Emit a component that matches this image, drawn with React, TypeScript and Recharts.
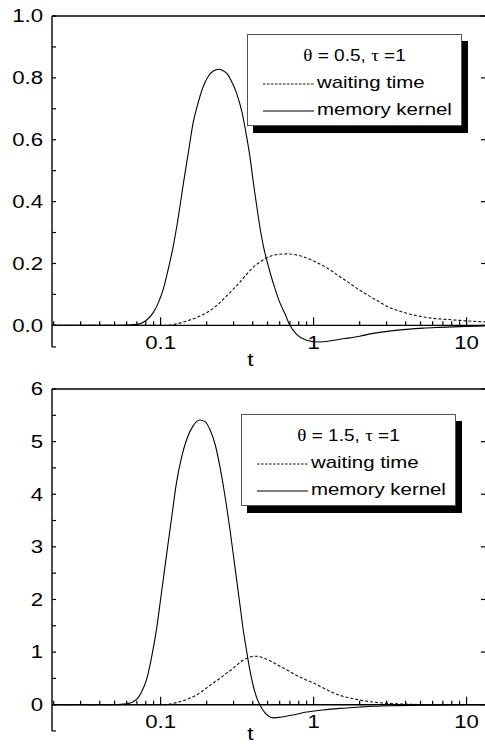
import React from "react";
import { Label, Legend, Line, LineChart, ReferenceLine, XAxis, YAxis } from "recharts";

const FONT = '"Liberation Sans", Arial, Helvetica, sans-serif';
const SERIF = '"Liberation Serif", "Times New Roman", serif';
const STRETCH = 1.2; // the scan is wider than tall, text looks stretched

// log time axis
const X_DOMAIN: [number, number] = [0.0195, 13.6];
const X_TICKS = [
  0.02, 0.03, 0.04, 0.05, 0.06, 0.07, 0.08, 0.09, 0.1, 0.2, 0.3, 0.4, 0.5, 0.6,
  0.7, 0.8, 0.9, 1, 2, 3, 4, 5, 6, 7, 8, 9, 10,
];
const X_MAJOR = [0.1, 1, 10];

// theta = 0.5
const wait1T = [
  0.02, 0.105, 0.125, 0.148, 0.175, 0.2, 0.235, 0.27, 0.3, 0.33, 0.365, 0.403,
  0.45, 0.493, 0.58, 0.667, 0.78, 0.9, 1.05, 1.22, 1.42, 1.64, 1.9, 2.22, 2.6,
  3.0, 3.5, 4.05, 5.0, 6.05, 7.5, 9.0, 11, 13.6,
];
const wait1Y = [
  0, 0, 0.004, 0.014, 0.027, 0.041, 0.066, 0.095, 0.118, 0.14, 0.165, 0.188,
  0.206, 0.218, 0.229, 0.231, 0.227, 0.218, 0.203, 0.186, 0.164, 0.143, 0.121,
  0.1, 0.08, 0.062, 0.049, 0.039, 0.029, 0.0226, 0.019, 0.016, 0.013, 0.011,
];
const kern1T = [
  0.02, 0.055, 0.0697, 0.08, 0.0895, 0.097, 0.104, 0.112, 0.121, 0.131, 0.141,
  0.152, 0.163, 0.176, 0.19, 0.205, 0.221, 0.24, 0.255, 0.27, 0.29, 0.314, 0.34,
  0.365, 0.385, 0.403, 0.425, 0.45, 0.47, 0.493, 0.52, 0.55, 0.6, 0.649, 0.7,
  0.774, 0.9, 1.1, 1.49, 2.0, 2.45, 3.2, 4.05, 5.2, 6.68, 9.0, 13.6,
];
const kern1Y = [
  0, 0, 0.003, 0.015, 0.041, 0.075, 0.116, 0.18, 0.256, 0.355, 0.46, 0.56,
  0.654, 0.72, 0.772, 0.805, 0.822, 0.828, 0.824, 0.815, 0.79, 0.75, 0.69,
  0.61, 0.54, 0.465, 0.385, 0.305, 0.255, 0.213, 0.17, 0.13, 0.075, 0.038, 0,
  -0.029, -0.048, -0.054, -0.045, -0.035, -0.026, -0.018, -0.013, -0.009,
  -0.0065, -0.004, -0.002,
];
const y1Ticks = [-0.07, 0, 0.1, 0.2, 0.3, 0.4, 0.5, 0.6, 0.7, 0.8, 0.9, 1.0];
const y1Major = [0, 0.2, 0.4, 0.6, 0.8, 1.0];

// theta = 1.5
const wait2T = [
  0.02, 0.104, 0.125, 0.148, 0.175, 0.2, 0.22, 0.244, 0.27, 0.298, 0.32, 0.34,
  0.36, 0.383, 0.4, 0.42, 0.445, 0.469, 0.53, 0.603, 0.69, 0.774, 0.88, 1.0,
  1.15, 1.34, 1.55, 1.81, 2.1, 2.45, 2.85, 3.31, 3.9, 4.48, 6.0, 8.0, 13.6,
];
const wait2Y = [
  0, 0, 0.035, 0.1, 0.2, 0.32, 0.41, 0.5, 0.6, 0.69, 0.77, 0.83, 0.875, 0.905,
  0.918, 0.92, 0.91, 0.89, 0.82, 0.73, 0.64, 0.556, 0.48, 0.41, 0.32, 0.227,
  0.16, 0.114, 0.078, 0.05, 0.032, 0.02, 0.011, 0.006, 0.002, 0.0005, 0,
];
const kern2T = [
  0.02, 0.05, 0.06, 0.0697, 0.075, 0.081, 0.087, 0.094, 0.101, 0.109, 0.118,
  0.127, 0.137, 0.148, 0.163, 0.181, 0.195, 0.21, 0.227, 0.244, 0.263, 0.284,
  0.306, 0.33, 0.347, 0.365, 0.383, 0.403, 0.424, 0.445, 0.48, 0.545, 0.633,
  0.75, 0.9, 1.15, 1.49, 2.0, 2.45, 3.5, 5.2, 8.0, 13.6,
];
const kern2Y = [
  0, 0, 0.015, 0.1, 0.24, 0.48, 0.88, 1.43, 2.1, 2.82, 3.55, 4.22, 4.7, 5.04,
  5.3, 5.41, 5.38, 5.23, 4.95, 4.53, 3.98, 3.33, 2.62, 1.9, 1.42, 1.02, 0.66,
  0.36, 0.14, 0, -0.15, -0.25, -0.23, -0.19, -0.14, -0.1, -0.07, -0.045, -0.03,
  -0.018, -0.01, -0.004, 0,
];
const y2Ticks = [-0.5, 0, 0.5, 1, 1.5, 2, 2.5, 3, 3.5, 4, 4.5, 5, 5.5, 6];
const y2Major = [0, 1, 2, 3, 4, 5, 6];

type Pt = { t: number; y: number };
const zip = (ts: number[], ys: number[]): Pt[] => ts.map((t, i) => ({ t, y: ys[i] }));
const isIn = (arr: number[], v: number) => arr.some((m) => Math.abs(m - v) < 1e-9);

const CHART_W = 497;

function LeftTick(props: any) {
  const { x, y, payload, major, fmt } = props;
  const v = payload.value;
  return (
    <g>
      <line x1={x} x2={x + 4} y1={y} y2={y} stroke="#000" strokeWidth={1.2} />
      {isIn(major, v) && (
        <text
          transform={`translate(${x - 9},${y}) scale(${STRETCH},1)`}
          textAnchor="end"
          dominantBaseline="central"
          fontFamily={FONT}
          fontSize={18.5}
          fill="#000"
        >
          {fmt(v)}
        </text>
      )}
    </g>
  );
}

function RightTick(props: any) {
  const { x, y } = props;
  return <line x1={x} x2={x - 6} y1={y} y2={y} stroke="#000" strokeWidth={1.2} />;
}

function TopTick(props: any) {
  const { x, y } = props;
  return <line x1={x} x2={x} y1={y} y2={y + 7} stroke="#000" strokeWidth={1.2} />;
}

// x ticks sit on the y=0 line, not at the bottom of the frame
function ZeroTick(props: any) {
  const { x, y, payload, lift } = props;
  const y0 = y - lift;
  const v = payload.value;
  const major = isIn(X_MAJOR, v);
  return (
    <g>
      <line x1={x} x2={x} y1={y0} y2={y0 - (major ? 8 : 4)} stroke="#000" strokeWidth={1.2} />
      {major && (
        <text
          transform={`translate(${x},${y0 + 17}) scale(${STRETCH},1)`}
          textAnchor="middle"
          dominantBaseline="central"
          fontFamily={FONT}
          fontSize={18.5}
          fill="#000"
        >
          {String(v)}
        </text>
      )}
    </g>
  );
}

function LegendBox({ title }: { title: React.ReactNode }) {
  const txt: React.CSSProperties = {
    position: "absolute",
    left: 69,
    fontSize: 17,
    lineHeight: "20px",
    whiteSpace: "nowrap",
    transform: `scaleX(${STRETCH})`,
    transformOrigin: "left center",
  };
  return (
    <div
      style={{
        position: "relative",
        width: 215,
        height: 92,
        boxSizing: "border-box",
        border: "1px solid #555",
        background: "#fff",
        boxShadow: "6px 7px 0 #000",
        fontFamily: FONT,
        color: "#000",
      }}
    >
      <div
        style={{
          position: "absolute",
          left: 0,
          width: "100%",
          top: 11,
          textAlign: "center",
          fontSize: 17,
          lineHeight: "20px",
          whiteSpace: "nowrap",
          transform: "scaleX(1.12)",
        }}
      >
        {title}
      </div>
      <svg style={{ position: "absolute", left: 15, top: 48 }} width={51} height={2}>
        <line x1={0} x2={51} y1={1} y2={1} stroke="#111" strokeWidth={1} strokeDasharray="2.5 1.5" />
      </svg>
      <div style={{ ...txt, top: 38 }}>waiting time</div>
      <svg style={{ position: "absolute", left: 15, top: 75 }} width={51} height={2}>
        <line x1={0} x2={51} y1={1} y2={1} stroke="#000" strokeWidth={1.1} />
      </svg>
      <div style={{ ...txt, top: 65 }}>memory kernel</div>
    </div>
  );
}

function Title({ theta }: { theta: string }) {
  return (
    <span>
      <span style={{ fontFamily: SERIF }}>θ</span> = {theta},{" "}
      <span style={{ fontFamily: SERIF }}>τ</span> =1
    </span>
  );
}

function Panel(props: {
  top: number;
  height: number;
  marginTop: number;
  axisH: number;
  tDy: number;
  yDomain: [number, number];
  yTicks: number[];
  yMajor: number[];
  fmt: (v: number) => string;
  wait: Pt[];
  kern: Pt[];
  theta: string;
  legendLeft: number;
  legendTop: number;
}) {
  const { height, marginTop, axisH, yDomain } = props;
  const plotH = height - marginTop - 1 - axisH;
  const [lo, hi] = yDomain;
  const lift = (plotH * (0 - lo)) / (hi - lo);

  return (
    <div style={{ position: "absolute", left: 0, top: props.top }}>
      <LineChart
        width={CHART_W}
        height={height}
        margin={{ top: marginTop, right: 0, bottom: 0, left: 0 }}
      >
        <XAxis
          xAxisId="b"
          dataKey="t"
          type="number"
          scale="log"
          domain={X_DOMAIN}
          allowDataOverflow
          ticks={X_TICKS}
          interval={0}
          height={axisH}
          axisLine={false}
          tickLine={false}
          tickSize={0}
          tickMargin={0}
          tick={(p: any) => <ZeroTick {...p} lift={lift} />}
        >
          <Label
            content={(p: any) => {
              const vb = p.viewBox;
              return (
                <text
                  transform={`translate(${vb.x + 198.5},${vb.y - lift + props.tDy}) scale(${STRETCH},1)`}
                  textAnchor="middle"
                  dominantBaseline="central"
                  fontFamily={FONT}
                  fontSize={19}
                  fill="#000"
                >
                  t
                </text>
              );
            }}
          />
        </XAxis>
        <XAxis
          xAxisId="top"
          orientation="top"
          type="number"
          scale="log"
          domain={X_DOMAIN}
          allowDataOverflow
          ticks={X_MAJOR}
          interval={0}
          height={1}
          axisLine={{ stroke: "#000", strokeWidth: 1.4 }}
          tickLine={false}
          tickSize={0}
          tickMargin={0}
          tick={(p: any) => <TopTick {...p} />}
        />
        <YAxis
          yAxisId="l"
          width={52}
          type="number"
          domain={yDomain}
          allowDataOverflow
          ticks={props.yTicks}
          interval={0}
          axisLine={{ stroke: "#000", strokeWidth: 1.4 }}
          tickLine={false}
          tickSize={0}
          tickMargin={0}
          tick={(p: any) => <LeftTick {...p} major={props.yMajor} fmt={props.fmt} />}
        />
        <YAxis
          yAxisId="r"
          orientation="right"
          width={10}
          type="number"
          domain={yDomain}
          allowDataOverflow
          ticks={props.yMajor}
          interval={0}
          axisLine={{ stroke: "#000", strokeWidth: 1.4 }}
          tickLine={false}
          tickSize={0}
          tickMargin={0}
          tick={(p: any) => <RightTick {...p} />}
        />
        <ReferenceLine xAxisId="b" yAxisId="l" y={0} stroke="#000" strokeWidth={1.4} />
        <Line
          xAxisId="b"
          yAxisId="l"
          data={props.wait}
          dataKey="y"
          name="waiting time"
          type="monotone"
          stroke="#111"
          strokeWidth={1.1}
          strokeDasharray="3 2"
          dot={false}
          activeDot={false}
          isAnimationActive={false}
        />
        <Line
          xAxisId="b"
          yAxisId="l"
          data={props.kern}
          dataKey="y"
          name="memory kernel"
          type="monotone"
          stroke="#000"
          strokeWidth={1.1}
          dot={false}
          activeDot={false}
          isAnimationActive={false}
        />
        <Legend
          layout="vertical"
          align="center"
          verticalAlign="middle"
          wrapperStyle={{ left: props.legendLeft, top: props.legendTop, width: 215, height: 92 }}
          content={() => <LegendBox title={<Title theta={props.theta} />} />}
        />
      </LineChart>
    </div>
  );
}

export default function App() {
  return (
    <div
      style={{
        position: "absolute",
        left: 0,
        top: 0,
        width: 485,
        height: 744,
        overflow: "hidden",
        background: "#fff",
      }}
    >
      <Panel
        top={0}
        height={372}
        marginTop={15}
        axisH={25}
        tDy={34}
        yDomain={[-0.07, 1]}
        yTicks={y1Ticks}
        yMajor={y1Major}
        fmt={(v) => v.toFixed(1)}
        wait={zip(wait1T, wait1Y)}
        kern={zip(kern1T, kern1Y)}
        theta="0.5"
        legendLeft={247}
        legendTop={34}
      />
      <Panel
        top={372}
        height={372}
        marginTop={16}
        axisH={13}
        tDy={29}
        yDomain={[-0.5, 6]}
        yTicks={y2Ticks}
        yMajor={y2Major}
        fmt={(v) => String(v)}
        wait={zip(wait2T, wait2Y)}
        kern={zip(kern2T, kern2Y)}
        theta="1.5"
        legendLeft={241}
        legendTop={42}
      />
    </div>
  );
}
